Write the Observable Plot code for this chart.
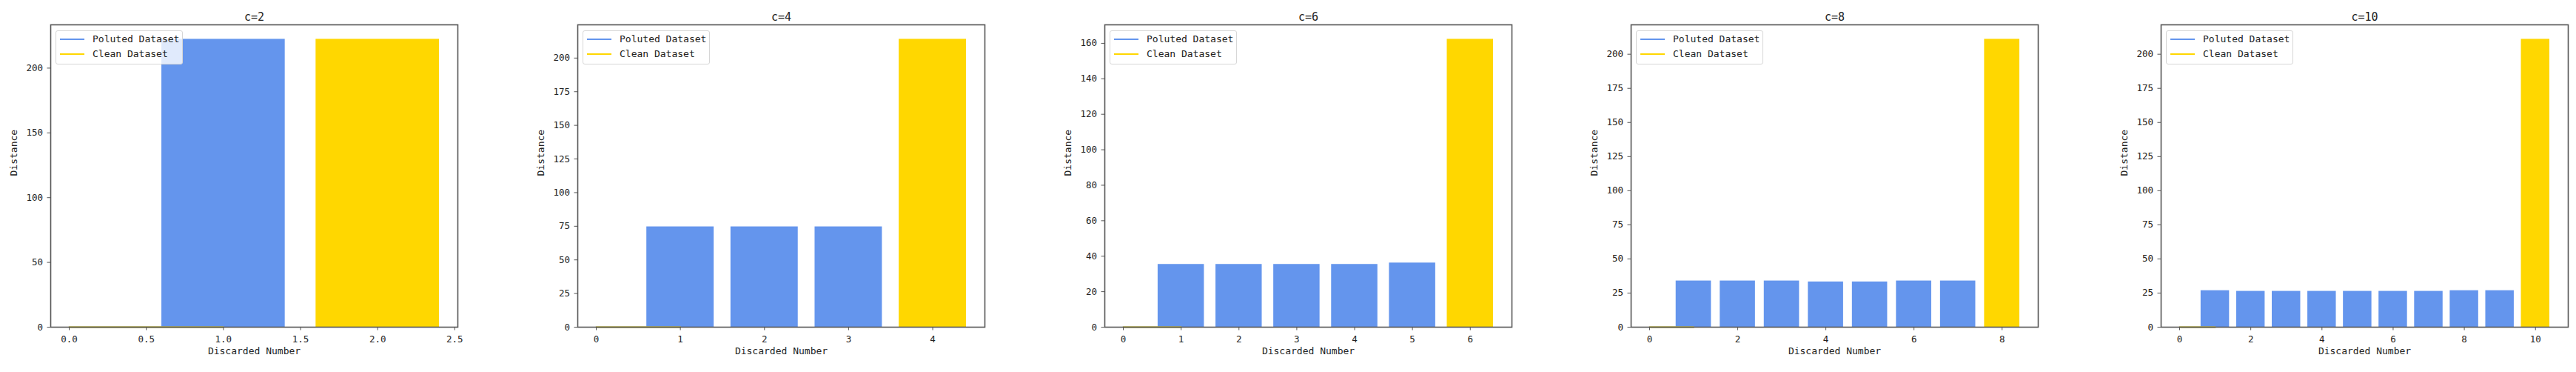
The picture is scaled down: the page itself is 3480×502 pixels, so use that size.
<!DOCTYPE html>
<html>
<head>
<meta charset="utf-8">
<script src="https://cdn.jsdelivr.net/npm/d3@7"></script>
<script src="https://cdn.jsdelivr.net/npm/@observablehq/plot@0.6"></script>
<style>
  body { margin: 0; background: #fff; }
  #root { position: relative; width: 3480px; height: 502px; overflow: hidden; font-family: "DejaVu Sans Mono", monospace; }
  .panel { position: absolute; top: 0; }
  .panel svg { max-width: none !important; }
  .legend { position: absolute; top: 41px; width: 170px; height: 44px; border: 1px solid #d6d6d6; border-radius: 3px; background: rgba(255,255,255,0.8); box-sizing: content-box; }
  .legend .row { position: absolute; left: 0; height: 20px; width: 100%; }
  .legend .sw { position: absolute; left: 5px; top: 9px; width: 33px; height: 2px; }
  .legend .lab { position: absolute; left: 49px; top: 0; line-height: 20px; font-size: 13px; color: #222; white-space: nowrap; }
</style>
</head>
<body>
<div id="root"></div>
<script>
// ---- data ----
const panelTitles = ["c=2", "c=4", "c=6", "c=8", "c=10"];
const cValues = [2, 4, 6, 8, 10];
const seriesNames = ["Poluted Dataset", "Clean Dataset"];
const seriesColors = ["#6495ED", "#FFD700"];
const pollutedValues = [
  [222.3],
  [74.6, 74.6, 74.6],
  [35.4, 35.4, 35.4, 35.4, 36.2],
  [33.9, 33.9, 33.9, 33.2, 33.2, 33.9, 33.9],
  [26.8, 26.3, 26.3, 26.3, 26.3, 26.3, 26.3, 26.8, 26.8]
];
const cleanValues = [222.3, 214.0, 162.3, 211.0, 211.0];
const lineX = [0, 1];
const lineY = [0, 0];
const xTicks = [
  [0, 0.5, 1, 1.5, 2, 2.5],
  [0, 1, 2, 3, 4],
  [0, 1, 2, 3, 4, 5, 6],
  [0, 2, 4, 6, 8],
  [0, 2, 4, 6, 8, 10]
];
const yTicks = [
  [0, 50, 100, 150, 200],
  [0, 25, 50, 75, 100, 125, 150, 175, 200],
  [0, 20, 40, 60, 80, 100, 120, 140, 160],
  [0, 25, 50, 75, 100, 125, 150, 175, 200],
  [0, 25, 50, 75, 100, 125, 150, 175, 200]
];
const xTickFormats = [".1f", "d", "d", "d", "d"];
const xLabel = "Discarded Number";
const yLabel = "Distance";

// ---- layout ----
const frameLefts = [68, 780, 1492, 2203, 2919];
const frameWidth = 550;
const mL = 68, mR = 10, mT = 33, mB = 61, H = 502;
const barHalf = 0.4;

const root = document.getElementById("root");

cValues.forEach((c, i) => {
  const bars = pollutedValues[i].map((v, j) => ({x: j + 1, v, series: seriesNames[0]}))
    .concat([{x: c, v: cleanValues[i], series: seriesNames[1]}]);
  const lines = seriesNames.flatMap(s => lineX.map((x, k) => ({x, y: lineY[k], series: s})));
  const xmin = Math.min(d3.min(lineX), d3.min(bars, d => d.x - barHalf));
  const xmax = Math.max(d3.max(lineX), d3.max(bars, d => d.x + barHalf));
  const span = xmax - xmin;
  const ymax = d3.max(bars, d => d.v) * 1.05;
  const W = mL + frameWidth + mR;

  const chart = Plot.plot({
    width: W,
    height: H,
    marginLeft: mL, marginRight: mR, marginTop: mT, marginBottom: mB,
    style: {fontFamily: '"DejaVu Sans Mono", monospace', fontSize: "12.5px", color: "#222", background: "transparent", overflow: "visible"},
    x: {domain: [xmin - 0.05 * span, xmax + 0.05 * span]},
    y: {domain: [0, ymax]},
    color: {domain: seriesNames, range: seriesColors},
    marks: [
      Plot.rectY(bars, {x1: d => d.x - barHalf, x2: d => d.x + barHalf, y: "v", fill: "series"}),
      Plot.line(lines, {x: "x", y: "y", z: "series", stroke: "series", strokeWidth: 2}),
      Plot.frame({stroke: "#555", strokeWidth: 1.6}),
      Plot.axisX({ticks: xTicks[i], tickFormat: d3.format(xTickFormats[i]), tickSize: 4.5, tickPadding: 7, label: null, stroke: "#555"}),
      Plot.axisY({ticks: yTicks[i], tickSize: 4.5, tickPadding: 6, label: null, stroke: "#555"}),
      Plot.text([panelTitles[i]], {text: d => d, frameAnchor: "top", dy: -16, fontSize: 15, fill: "#222"}),
      Plot.text([xLabel], {text: d => d, frameAnchor: "bottom", dy: 36, fontSize: 13, fill: "#222"}),
      Plot.text([yLabel], {text: d => d, frameAnchor: "left", dx: -50, rotate: -90, fontSize: 13, fill: "#222"})
    ]
  });
  const wrap = document.createElement("div");
  wrap.className = "panel";
  wrap.style.left = (frameLefts[i] - mL) + "px";
  wrap.style.width = W + "px";
  wrap.style.height = H + "px";
  wrap.appendChild(chart);
  root.appendChild(wrap);

  const leg = document.createElement("div");
  leg.className = "legend";
  leg.style.left = (frameLefts[i] + 7) + "px";
  seriesNames.forEach((name, k) => {
    const row = document.createElement("div");
    row.className = "row";
    row.style.top = (1 + k * 20) + "px";
    const sw = document.createElement("div");
    sw.className = "sw";
    sw.style.background = seriesColors[k];
    const lab = document.createElement("div");
    lab.className = "lab";
    lab.textContent = name;
    row.appendChild(sw);
    row.appendChild(lab);
    leg.appendChild(row);
  });
  root.appendChild(leg);
});
</script>
</body>
</html>
